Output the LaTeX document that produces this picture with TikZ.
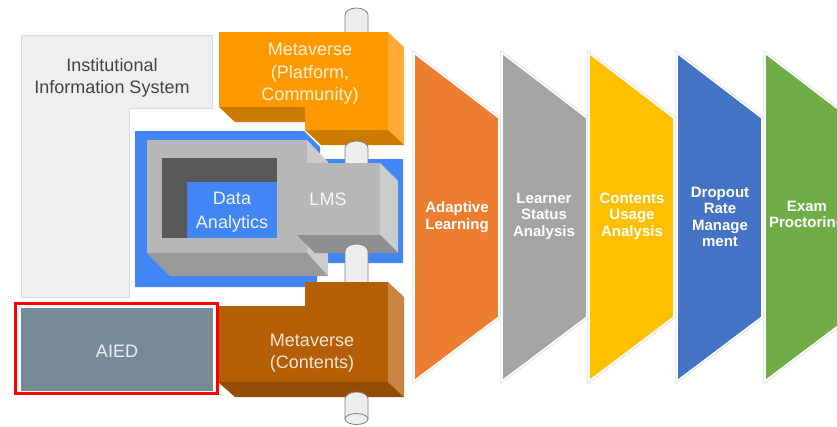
\documentclass[tikz,border=0pt]{standalone}
\usepackage{fontspec}
\setmainfont{Liberation Sans}
\definecolor{instG}{HTML}{EFEFEF}
\definecolor{instE}{HTML}{DCDCDC}
\definecolor{instT}{HTML}{434343}
\definecolor{gblue}{HTML}{4285F4}
\definecolor{gF}{HTML}{B7B7B7}
\definecolor{gS}{HTML}{CBCBCB}
\definecolor{gB}{HTML}{999999}
\definecolor{gD}{HTML}{595959}
\definecolor{orF}{HTML}{FF9900}
\definecolor{orS}{HTML}{FFAB38}
\definecolor{orB}{HTML}{CC7A00}
\definecolor{brF}{HTML}{B45F06}
\definecolor{brS}{HTML}{C98442}
\definecolor{brB}{HTML}{934D04}
\definecolor{slate}{HTML}{778B96}
\definecolor{cylF}{HTML}{EEEEEE}
\definecolor{cylE}{HTML}{808080}
\definecolor{chO}{HTML}{ED7D31}
\definecolor{chG}{HTML}{A5A5A5}
\definecolor{chY}{HTML}{FFC000}
\definecolor{chB}{HTML}{4472C4}
\definecolor{chGr}{HTML}{70AD47}
\begin{document}
\begin{tikzpicture}[x=1pt,y=-1pt,
  lbl/.style={font=\fontsize{18}{22.5}\selectfont, align=center, inner sep=0pt},
  chevtxt/.style={font=\bfseries\fontsize{15}{16.5}\selectfont, text=white, align=center, inner sep=0pt},
  cyl/.style={fill=cylF, draw=cylE, line width=0.8pt},
  chev/.style={draw=white, line width=1.6pt}]
\useasboundingbox (0,0) rectangle (837,426);
\clip (0,0) rectangle (837,426);
% Institutional Information System
\filldraw[fill=instG, draw=instE, line width=0.6pt] (21,35) -- (212,35) -- (212,108) -- (129,108) -- (129,297) -- (21,297) -- cycle;
\node[lbl, text=instT] (inst) at (112,78) {Institutional\\Information System};
% blue backdrop
\fill[gblue] (135,131) -- (304,131) -- (320,147) -- (320,159) -- (403,159) -- (403,263) -- (317,263) -- (317,287) -- (135,287) -- cycle;
% outer gray box
\fill[gF] (147,140) rectangle (307,253);
\fill[gS] (307,140) -- (328,162) -- (328,276) -- (307,253) -- cycle;
\fill[gB] (147,253) -- (307,253) -- (328,276) -- (170,276) -- cycle;
\fill[gD] (162,158) rectangle (277,238);
\fill[gblue] (187,182) rectangle (277,238);
\node[lbl, text=white!92!gblue, font=\fontsize{18}{24}\selectfont] (da) at (232,212) {Data\\Analytics};
% top cylinder
\filldraw[cyl] (345,40) -- (345,15) arc[start angle=180, end angle=0, x radius=11.5pt, y radius=7pt] -- (368,40);
% orange metaverse box
\fill[orF] (219,32) -- (388,32) -- (388,130) -- (305,130) -- (305,107) -- (219,107) -- cycle;
\fill[orS] (388,32) -- (404,47) -- (404,145) -- (388,130) -- cycle;
\fill[orB] (219,107) -- (305,107) -- (305,122) -- (235,122) -- cycle;
\fill[orB] (305,130) -- (388,130) -- (404,145) -- (321,145) -- cycle;
\node[lbl, text=white!85!orF] (mvp) at (310,74) {Metaverse\\(Platform,\\Community)};
% cylinder orange-LMS
\filldraw[cyl] (345,172) -- (345,148) arc[start angle=180, end angle=0, x radius=11.5pt, y radius=7pt] -- (368,172);
% LMS box
\fill[gF] (297,163) rectangle (380,235);
\fill[gS] (380,163) -- (398,181) -- (398,253) -- (380,235) -- cycle;
\fill[gB!110!white] (297,235) -- (380,235) -- (398,253) -- (315,253) -- cycle;
\node[lbl, text=white!88!gF] (lms) at (328,199) {LMS};
% cylinder LMS-brown
\filldraw[cyl] (345,292) -- (345,251) arc[start angle=180, end angle=0, x radius=11.5pt, y radius=7pt] -- (368,292);
% brown metaverse box
\fill[brF] (305,282) -- (388,282) -- (388,382) -- (218,382) -- (218,306) -- (305,306) -- cycle;
\fill[brS] (388,282) -- (404,297) -- (404,397) -- (388,382) -- cycle;
\fill[brB] (218,382) -- (388,382) -- (404,397) -- (235,397) -- cycle;
\node[lbl, text=white!85!brF] (mvc) at (312,353) {Metaverse\\(Contents)};
% bottom cylinder
\filldraw[cyl] (345,419) -- (345,399) arc[start angle=180, end angle=0, x radius=11.5pt, y radius=7pt] -- (368,419);
\filldraw[cyl] (356.5,419) ellipse[x radius=11.5pt, y radius=5.5pt];
% AIED
\fill[slate] (21,308) rectangle (213,391);
\draw[red, line width=3pt] (15.5,303.5) rectangle (217.5,393.5);
\node[lbl, text=white!85!slate] (aied) at (117,351) {AIED};
% chevrons
\foreach \x/\c in {414/chO,502/chG,589/chY,677/chB,765/chGr}{
  \draw[gray!25, line width=3.2pt, line join=miter] (\x,53) -- (\x+85,118) -- (\x+85,317) -- (\x,381) -- cycle;
  \filldraw[chev, fill=\c] (\x,53) -- (\x+85,118) -- (\x+85,317) -- (\x,381) -- cycle;
}
\node[chevtxt] (c1) at (457,217) {Adaptive\\Learning};
\node[chevtxt] (c2) at (544,216) {Learner\\Status\\Analysis};
\node[chevtxt] (c3) at (632,216) {Contents\\Usage\\Analysis};
\node[chevtxt] (c4) at (720,217) {Dropout\\Rate\\Manage\\ment};
\node[chevtxt] (c5) at (807,216) {Exam\\Proctoring};
\end{tikzpicture}
\end{document}
